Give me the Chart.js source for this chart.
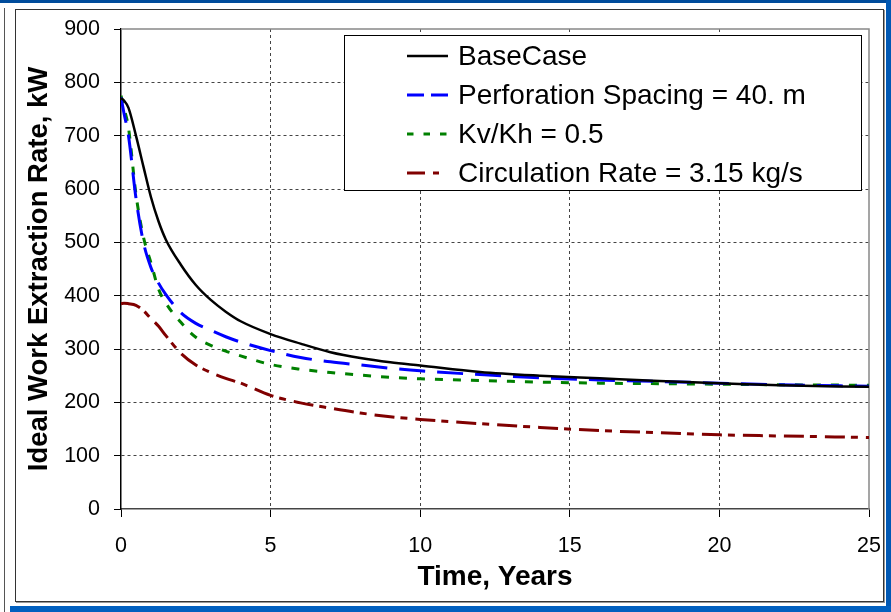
<!DOCTYPE html>
<html>
<head>
<meta charset="utf-8">
<script src="https://cdn.jsdelivr.net/npm/chart.js@4.4.0/dist/chart.umd.min.js"></script>
<style>
  body { margin: 0; background: #fff; }
  #wrap { position: relative; width: 891px; height: 612px; overflow: hidden; background: #fff; }
  .bar { position: absolute; background: #0058b0; }
  #frame { position: absolute; left: 15px; top: 9px; width: 867px; height: 591px; border: 1px solid #333; box-shadow: 1px 1px 0 #999; }
  #edge { position: absolute; left: 4px; top: 8px; width: 1px; height: 604px; background: #555; }
  canvas { position: absolute; left: 0; top: 0; }
</style>
</head>
<body>
<div id="wrap">
  <div class="bar" style="left:0;top:0;width:891px;height:3px;background:#004c9c"></div>
  <div class="bar" style="left:886px;top:0;width:5px;height:612px;background:#0058b4"></div>
  <div class="bar" style="left:10px;top:606px;width:881px;height:6px;background:#005fbf"></div>
  <div id="edge"></div>
  <div id="frame"></div>
  <canvas id="chart" width="891" height="612"></canvas>
</div>
<script>
const years = [0, 0.1, 0.25, 0.5, 0.75, 1, 1.25, 1.5, 2, 2.5, 3, 3.5, 4, 5, 6, 7, 8, 9, 10, 12, 14, 16, 18, 20, 22, 25];
const baseCase = [770, 766, 752, 700, 642, 585, 540, 505, 458, 420, 392, 370, 352, 328, 310, 294, 283, 275, 269, 257, 250, 245, 240, 236, 232, 229];
const perfSpacing = [772, 742, 700, 583, 500, 453, 424, 402, 368, 348, 335, 323, 313, 297, 284, 276, 270, 264, 259, 252, 246, 242, 239, 236, 233, 230];
const kvKh = [775, 752, 715, 590, 510, 462, 413, 386, 350, 322, 307, 296, 287, 271, 262, 256, 251, 247, 244, 241, 238, 236, 235, 234, 233, 232];
const circRate = [385, 386, 385, 382, 372, 357, 343, 325, 292, 270, 256, 245, 236, 213, 199, 189, 180, 173, 168, 160, 153, 147, 143, 139, 137, 134];
const seriesLabels = ['BaseCase', 'Perforation Spacing = 40. m', 'Kv/Kh = 0.5', 'Circulation Rate = 3.15 kg/s'];

const FONT = "'Liberation Sans', Arial, sans-serif";
Chart.defaults.font.family = FONT;
Chart.defaults.color = '#000';

function pts(values) {
  return years.map((t, i) => ({ x: t, y: values[i] }));
}

// legend drawn as a boxed panel inside the plot, like the original
const boxLegend = {
  id: 'boxLegend',
  afterDraw(chart) {
    const ctx = chart.ctx;
    ctx.save();
    ctx.fillStyle = '#fff';
    ctx.strokeStyle = '#000';
    ctx.lineWidth = 1;
    ctx.fillRect(344.5, 35.5, 517, 155);
    ctx.strokeRect(344.5, 35.5, 517, 155);
    chart.data.datasets.forEach((ds, i) => {
      const y = 56 + i * 39;
      ctx.beginPath();
      ctx.setLineDash(ds.legendDash || []);
      ctx.strokeStyle = ds.borderColor;
      ctx.lineWidth = ds.borderWidth;
      ctx.moveTo(407, y);
      ctx.lineTo(448, y);
      ctx.stroke();
      ctx.setLineDash([]);
      ctx.fillStyle = '#000';
      ctx.font = '28px ' + FONT;
      ctx.textAlign = 'left';
      ctx.textBaseline = 'middle';
      ctx.fillText(ds.label, 458, y + 1);
    });
    ctx.restore();
  }
};

// gray top / right edges of the plot area
const plotEdges = {
  id: 'plotEdges',
  beforeDatasetsDraw(chart) {
    const { ctx, chartArea: a } = chart;
    ctx.save();
    ctx.strokeStyle = '#888';
    ctx.lineWidth = 1.5;
    ctx.beginPath();
    ctx.moveTo(a.left, a.top);
    ctx.lineTo(a.right, a.top);
    ctx.lineTo(a.right, a.bottom);
    ctx.stroke();
    ctx.restore();
  }
};

const edgeTick = (lo, hi) => c => (c.tick && (c.tick.value === lo || c.tick.value === hi)) ? 'rgba(0,0,0,0)' : '#444';

new Chart(document.getElementById('chart'), {
  type: 'line',
  data: {
    datasets: [
      { label: seriesLabels[0], data: pts(baseCase), borderColor: '#000000', borderWidth: 2.5 },
      { label: seriesLabels[1], data: pts(perfSpacing), borderColor: '#0000ff', borderWidth: 3, borderDash: [26, 12], legendDash: [17, 7] },
      { label: seriesLabels[2], data: pts(kvKh), borderColor: '#008000', borderWidth: 3, borderDash: [8, 10], legendDash: [6.5, 10] },
      { label: seriesLabels[3], data: pts(circRate), borderColor: '#800000', borderWidth: 3, borderDash: [20, 6, 7, 8], legendDash: [18, 8, 6, 20] }
    ]
  },
  options: {
    responsive: false,
    animation: false,
    layout: { padding: { top: 29, right: 22, left: 0, bottom: 0 } },
    elements: { point: { radius: 0 }, line: { cubicInterpolationMode: 'monotone', fill: false } },
    plugins: { legend: { display: false }, tooltip: { enabled: false } },
    scales: {
      x: {
        type: 'linear', min: 0, max: 25,
        ticks: { stepSize: 5, font: { size: 21.5 }, padding: 16, color: '#000' },
        grid: { color: edgeTick(0, 25), tickColor: '#000', tickLength: 8, lineWidth: 1 },
        border: { color: '#444', width: 1.5, dash: [3, 3] },
        title: { display: true, text: 'Time, Years', font: { size: 28, weight: 'bold' }, color: '#000', padding: { top: 0, bottom: 18 } },
        afterFit(s) { s.height = 103; s.paddingLeft = 0; s.paddingRight = 0; }
      },
      y: {
        min: 0, max: 900,
        ticks: { stepSize: 100, font: { size: 21.5 }, padding: 14, color: '#000' },
        grid: { color: edgeTick(0, 900), tickColor: '#000', tickLength: 7, lineWidth: 1 },
        border: { color: '#000', width: 1.5, dash: [3, 3] },
        title: { display: true, text: 'Ideal Work Extraction Rate, kW', font: { size: 27.5, weight: 'bold' }, color: '#000', padding: { top: 23, bottom: 0 } },
        afterFit(s) { s.width = 121; }
      }
    }
  },
  plugins: [plotEdges, boxLegend]
});
</script>
</body>
</html>
